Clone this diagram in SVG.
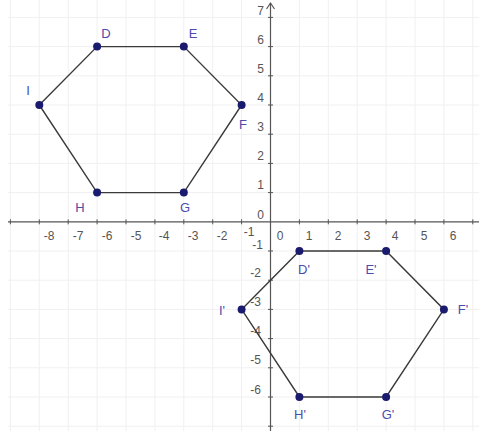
<svg xmlns="http://www.w3.org/2000/svg" width="479" height="431" viewBox="0 0 479 431">
<defs>
<style>
.grid{stroke:#f0f0f0;stroke-width:1;fill:none}
.axis{stroke:#555;stroke-width:1.2;fill:none}
.tick{stroke:#555;stroke-width:1}
.num{font-family:"Liberation Sans",Arial,sans-serif;font-size:12px;fill:#555}
.numx{text-anchor:middle}
.numy{text-anchor:end}
.edge{stroke:#3a3a3a;stroke-width:1.4;fill:none}
.pt{fill:#1a1a6e}
.lbl{font-family:"Liberation Sans",Arial,sans-serif;font-size:13px;fill:#4c4cab;text-anchor:middle}
</style>
</defs>
<rect width="479" height="431" fill="#fff"/>
<g id="grid" class="grid">
<path d="M10.4 0V431M39.3 0V431M68.2 0V431M97.1 0V431M126 0V431M154.9 0V431M183.8 0V431M212.7 0V431M241.6 0V431M299.4 0V431M328.3 0V431M357.2 0V431M386.1 0V431M415 0V431M443.9 0V431M472.8 0V431"/>
<path d="M8 17.4H479M8 46.6H479M8 75.8H479M8 105H479M8 134.2H479M8 163.4H479M8 192.6H479M8 251H479M8 280.2H479M8 309.4H479M8 338.6H479M8 367.8H479M8 397H479M8 426.2H479"/>
</g>
<g id="axes">
<path class="axis" d="M8 221.8H479"/>
<path class="axis" d="M270.5 431V3"/>
<path class="axis" d="M266.5 9L270.5 3L274.5 9"/>
<path class="tick" d="M10.4 219.3v5M39.3 219.3v5M68.2 219.3v5M97.1 219.3v5M126 219.3v5M154.9 219.3v5M183.8 219.3v5M212.7 219.3v5M241.6 219.3v5M299.4 219.3v5M328.3 219.3v5M357.2 219.3v5M386.1 219.3v5M415 219.3v5M443.9 219.3v5M472.8 219.3v5"/>
<path class="tick" d="M268 17.4h5M268 46.6h5M268 75.8h5M268 105h5M268 134.2h5M268 163.4h5M268 192.6h5M268 251h5M268 280.2h5M268 309.4h5M268 338.6h5M268 367.8h5M268 397h5M268 426.2h5"/>
<g class="num numx">
<text x="49" y="240">-8</text><text x="78" y="240">-7</text><text x="107" y="240">-6</text><text x="136" y="240">-5</text><text x="164" y="240">-4</text><text x="193" y="240">-3</text><text x="222" y="240">-2</text><text x="249" y="236">-1</text>
<text x="280" y="240">0</text><text x="309" y="240">1</text><text x="338" y="240">2</text><text x="367" y="240">3</text><text x="395" y="240">4</text><text x="424" y="240">5</text><text x="453" y="240">6</text>
</g>
<g class="num numy">
<text x="264" y="15">7</text><text x="264" y="44">6</text><text x="264" y="73">5</text><text x="264" y="102">4</text><text x="264" y="131">3</text><text x="264" y="160">2</text><text x="264" y="189">1</text><text x="264" y="219">0</text>
<text x="263" y="249">-1</text><text x="261" y="277">-2</text><text x="261" y="306">-3</text><text x="261" y="335">-4</text><text x="261" y="364">-5</text><text x="261" y="394">-6</text>
</g>
</g>
<g id="connectors">
<polygon class="edge" points="39.3,105 97.1,46.6 183.8,46.6 241.6,105 183.8,192.6 97.1,192.6"/>
<polygon class="edge" points="241.6,309.4 299.4,251 386.1,251 443.9,309.4 386.1,397 299.4,397"/>
</g>
<g id="I"><circle class="pt" cx="39.3" cy="105" r="4"/><text class="lbl" x="28" y="95">I</text></g>
<g id="D"><circle class="pt" cx="97.1" cy="46.6" r="4"/><text class="lbl" x="106" y="38">D</text></g>
<g id="E"><circle class="pt" cx="183.8" cy="46.6" r="4"/><text class="lbl" x="193" y="38">E</text></g>
<g id="F"><circle class="pt" cx="241.6" cy="105" r="4"/><text class="lbl" x="243" y="129">F</text></g>
<g id="G"><circle class="pt" cx="183.8" cy="192.6" r="4"/><text class="lbl" x="185" y="212">G</text></g>
<g id="H"><circle class="pt" cx="97.1" cy="192.6" r="4"/><text class="lbl" x="80" y="212">H</text></g>
<g id="I-prime"><circle class="pt" cx="241.6" cy="309.4" r="4"/><text class="lbl" x="222" y="315">I'</text></g>
<g id="D-prime"><circle class="pt" cx="299.4" cy="251" r="4"/><text class="lbl" x="304" y="274">D'</text></g>
<g id="E-prime"><circle class="pt" cx="386.1" cy="251" r="4"/><text class="lbl" x="371" y="274">E'</text></g>
<g id="F-prime"><circle class="pt" cx="443.9" cy="309.4" r="4"/><text class="lbl" x="463" y="314">F'</text></g>
<g id="G-prime"><circle class="pt" cx="386.1" cy="397" r="4"/><text class="lbl" x="388" y="419">G'</text></g>
<g id="H-prime"><circle class="pt" cx="299.4" cy="397" r="4"/><text class="lbl" x="300" y="419">H'</text></g>
</svg>
